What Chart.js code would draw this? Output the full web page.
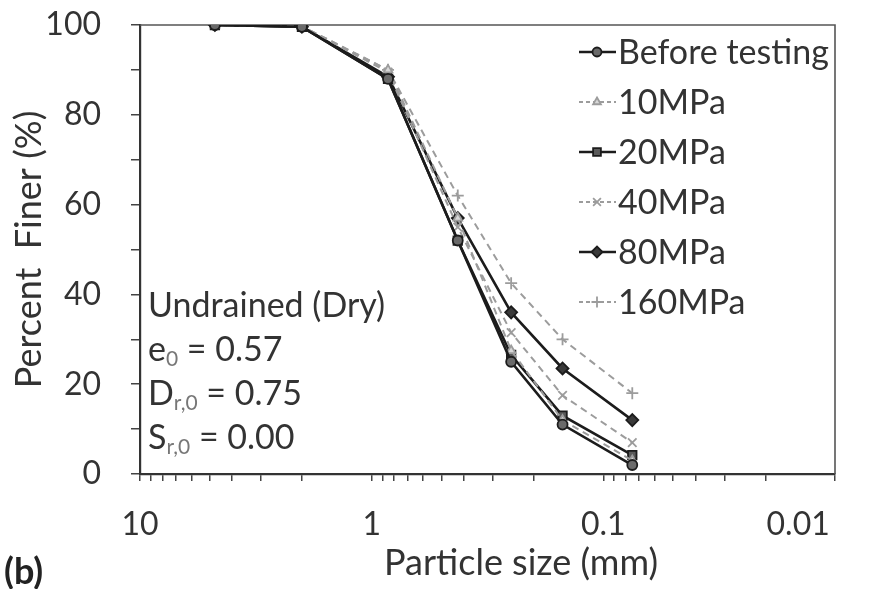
<!DOCTYPE html>
<html>
<head>
<meta charset="utf-8">
<script src="https://cdn.jsdelivr.net/npm/chart.js@4.4.1/dist/chart.umd.min.js"></script>
<style>
  html, body { margin: 0; padding: 0; background: #fff; }
  #wrap { width: 875px; height: 589px; position: relative; }
</style>
</head>
<body>
<div id="wrap"><canvas id="c" width="875" height="589"></canvas></div>
<script>
// ---- data ----
const particleSizes = [4.75, 2, 0.85, 0.425, 0.25, 0.15, 0.075];
const seriesNames = ['Before testing', '10MPa', '20MPa', '40MPa', '80MPa', '160MPa'];
const beforeTesting = [100, 99.6, 88.0, 52.0, 25.0, 11.0, 2.0];
const mpa10  = [100, 99.7, 90.0, 57.0, 27.5, 12.0, 3.0];
const mpa20  = [100, 99.6, 88.0, 52.0, 26.5, 13.0, 4.2];
const mpa40  = [100, 99.7, 89.5, 55.0, 31.5, 17.5, 7.0];
const mpa80  = [100, 99.6, 88.5, 57.0, 36.0, 23.5, 12.0];
const mpa160 = [100, 99.7, 90.0, 62.0, 42.5, 30.0, 18.0];
const xTickValues = [0.01,0.02,0.03,0.04,0.05,0.06,0.07,0.08,0.09,
                     0.1,0.2,0.3,0.4,0.5,0.6,0.7,0.8,0.9,
                     1,2,3,4,5,6,7,8,9,10];
const xTickLabels = {10: '10', 1: '1', 0.1: '0.1', 0.01: '0.01'};
const yTickLabels = [0, 20, 40, 60, 80, 100];
const noteLines = [
  [['Undrained (Dry)', false]],
  [['e', false], ['0', true], [' = 0.57', false]],
  [['D', false], ['r,0', true], [' = 0.75', false]],
  [['S', false], ['r,0', true], [' = 0.00', false]]
];

const FONT = 'Lato, "Open Sans", sans-serif';
const TXT = '#333333';
const DARK = '#1c1c1c';
const GRAY = '#9c9c9c';

const allSeries = [beforeTesting, mpa10, mpa20, mpa40, mpa80, mpa160];
const styles = [
  {color: DARK, dash: [], point: 'circle', fill: '#6a6a6a', r: 5, w: 2.6},
  {color: GRAY, dash: [7, 5], point: 'triangle', fill: '#d8d8d8', r: 5, w: 2},
  {color: DARK, dash: [], point: 'rect', fill: '#5a5a5a', r: 6, w: 2.6},
  {color: GRAY, dash: [7, 5], point: 'crossRot', fill: GRAY, r: 6, w: 2},
  {color: DARK, dash: [], point: 'rectRot', fill: '#3a3a3a', r: 6, w: 2.6},
  {color: GRAY, dash: [7, 5], point: 'cross', fill: GRAY, r: 6, w: 2}
];

const datasets = allSeries.map((vals, i) => ({
  label: seriesNames[i],
  data: particleSizes.map((s, k) => ({x: s, y: vals[k]})),
  borderColor: styles[i].color,
  borderWidth: styles[i].w,
  borderDash: styles[i].dash,
  pointStyle: styles[i].point,
  pointRadius: styles[i].r,
  pointBackgroundColor: styles[i].fill,
  pointBorderColor: styles[i].color,
  pointBorderWidth: 1.8,
  tension: 0,
  fill: false
}));

const framePlugin = {
  id: 'frame',
  beforeDatasetsDraw(chart) {
    const {ctx, chartArea: a} = chart;
    ctx.save();
    ctx.strokeStyle = '#555';
    ctx.lineWidth = 1.6;
    ctx.beginPath();
    ctx.moveTo(a.left, a.top);
    ctx.lineTo(a.right, a.top);
    ctx.lineTo(a.right, a.bottom);
    ctx.stroke();
    ctx.restore();
  }
};

function drawMarker(ctx, st, x, y) {
  if (Chart.helpers && Chart.helpers.drawPoint) {
    ctx.save();
    ctx.fillStyle = st.fill;
    ctx.strokeStyle = st.color;
    ctx.lineWidth = 1.8;
    ctx.setLineDash([]);
    Chart.helpers.drawPoint(ctx, {pointStyle: st.point, radius: st.r - 0.5, rotation: 0, borderWidth: 1.8}, x, y);
    ctx.restore();
  }
}

const overlayPlugin = {
  id: 'overlay',
  afterDraw(chart) {
    const {ctx} = chart;
    ctx.save();
    // legend
    ctx.font = '34px ' + FONT;
    ctx.textBaseline = 'middle';
    ctx.textAlign = 'left';
    for (let i = 0; i < seriesNames.length; i++) {
      const y = 52 + 50 * i;
      const st = styles[i];
      ctx.save();
      ctx.strokeStyle = st.color;
      ctx.lineWidth = st.w;
      ctx.setLineDash(st.dash.length ? [4, 3] : []);
      ctx.beginPath();
      ctx.moveTo(579, y);
      ctx.lineTo(616, y);
      ctx.stroke();
      ctx.restore();
      drawMarker(ctx, st, 597, y);
      ctx.fillStyle = TXT;
      ctx.fillText(seriesNames[i], 618, y + 1);
    }
    // notes
    let ny = 306;
    noteLines.forEach(line => {
      let x = 148;
      line.forEach(([t, sub]) => {
        if (sub) {
          ctx.font = '21px ' + FONT;
          ctx.fillStyle = '#777';
          ctx.fillText(t, x, ny + 9);
        } else {
          ctx.font = '34px ' + FONT;
          ctx.fillStyle = TXT;
          ctx.fillText(t, x, ny);
        }
        x += ctx.measureText(t).width;
      });
      ny += 44;
    });
    // x axis title
    ctx.font = '36px ' + FONT;
    ctx.fillStyle = TXT;
    ctx.textAlign = 'center';
    ctx.fillText('Particle size (mm)', 521, 563);
    // panel label
    ctx.font = 'bold 36px ' + FONT;
    ctx.textAlign = 'left';
    ctx.fillStyle = '#222';
    ctx.fillText('(b)', 4, 572);
    ctx.restore();
  }
};

new Chart(document.getElementById('c'), {
  type: 'line',
  data: {datasets},
  options: {
    responsive: false,
    animation: false,
    devicePixelRatio: 1,
    layout: {padding: {top: 25, right: 40, left: 0, bottom: 0}},
    plugins: {legend: {display: false}, tooltip: {enabled: false}},
    scales: {
      x: {
        type: 'logarithmic',
        reverse: true,
        min: 0.01,
        max: 10,
        afterBuildTicks: s => { s.ticks = xTickValues.map(v => ({value: v})); },
        afterFit: s => { s.height = 115; s.paddingLeft = 0; s.paddingRight = 0; },
        ticks: {
          autoSkip: false,
          maxRotation: 0,
          padding: 24,
          color: TXT,
          font: {family: FONT, size: 32},
          callback: v => {
            if (v === 0.01) return '0.01         ';
            return xTickLabels[v] !== undefined ? xTickLabels[v] : '';
          }
        },
        grid: {display: true, drawOnChartArea: false, drawTicks: true, tickLength: 7, color: '#444', lineWidth: 1.5},
        border: {display: true, color: '#333', width: 2.2}
      },
      y: {
        type: 'linear',
        min: 0,
        max: 100,
        afterFit: s => { s.width = 140; s.paddingTop = 0; s.paddingBottom = 0; },
        ticks: {
          stepSize: 10,
          padding: 30,
          color: TXT,
          font: {family: FONT, size: 32},
          callback: v => yTickLabels.includes(v) ? String(v) : ''
        },
        grid: {display: true, drawOnChartArea: false, drawTicks: true, tickLength: 9, color: '#444', lineWidth: 1.5},
        border: {display: true, color: '#333', width: 2.2},
        title: {display: true, text: 'Percent  Finer (%)', color: TXT, font: {family: FONT, size: 36}, padding: {top: 8, bottom: 0}}
      }
    }
  },
  plugins: [framePlugin, overlayPlugin]
});
</script>
</body>
</html>
